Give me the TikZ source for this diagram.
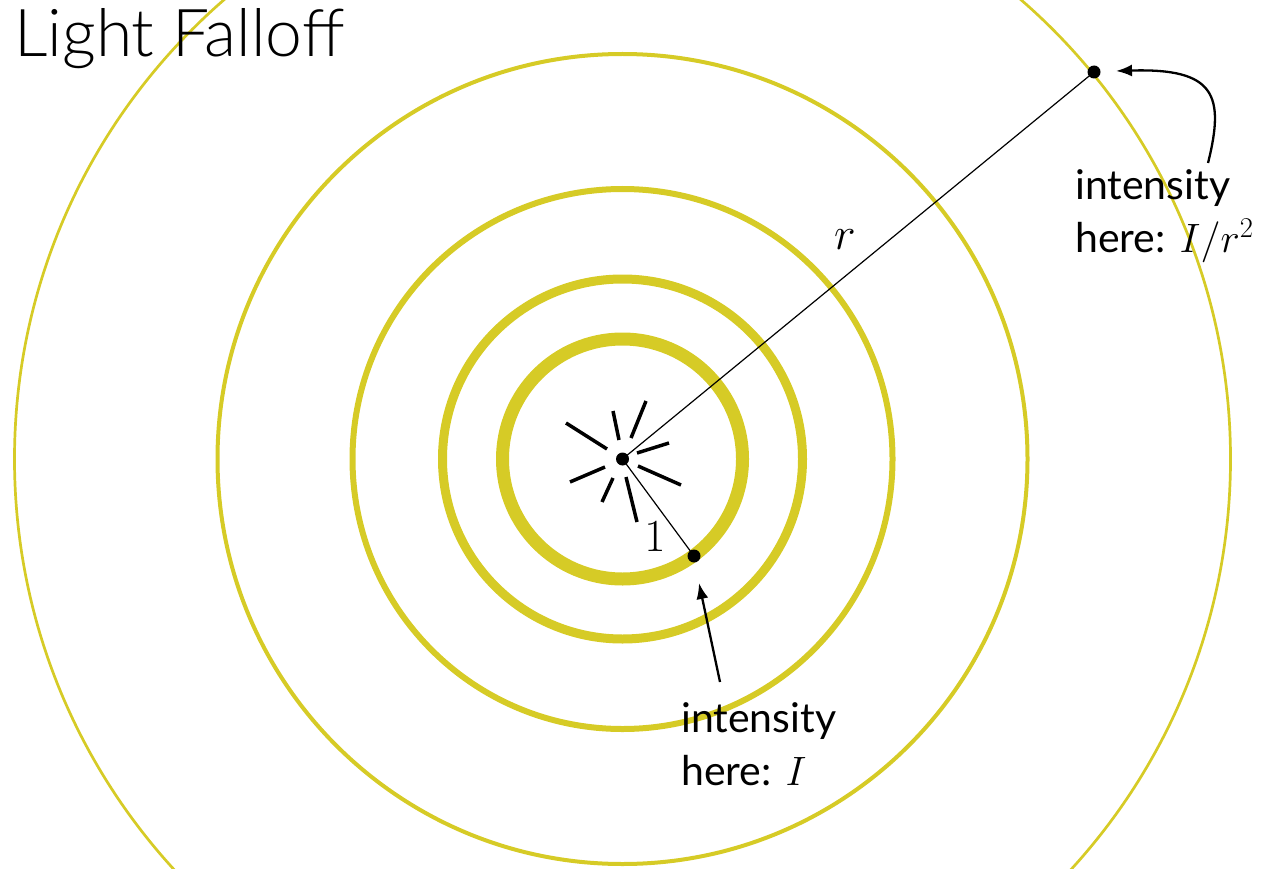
\RequirePackage{fix-cm}
\documentclass[tikz,border=0pt]{standalone}
\usepackage[no-math]{fontspec}
\setmainfont{Lato}
\newfontfamily\titlefont{Lato Light}
\usetikzlibrary{arrows.meta}
\definecolor{ring color}{RGB}{214,203,38}
\tikzset{ring/.style={draw=ring color}}
\tikzset{wire/.style={line width=1.2pt}}
\tikzset{ray/.style={line width=3.5pt}}
\tikzset{dot/.style={circle, fill, inner sep=0pt, minimum size=13pt}}
\tikzset{pointer/.style={line width=2.3pt, -{Latex[length=16pt,width=12pt]}}}
\tikzset{label text/.style={font=\fontsize{41}{53}\selectfont, align=left, anchor=base west, inner sep=0pt}}

\begin{document}
\begin{tikzpicture}[x=1pt, y=-1pt]
  \useasboundingbox (0,0) rectangle (1276,869);
  \clip (0,0) rectangle (1276,869);
  \coordinate (source) at (622.5,459);
  % rings, thinner as they grow
  \draw[ring, line width=13pt] (source) circle[radius=120];
  \draw[ring, line width=9pt] (source) circle[radius=180];
  \draw[ring, line width=6pt] (source) circle[radius=270];
  \draw[ring, line width=4pt] (source) circle[radius=405];
  \draw[ring, line width=2.7pt] (source) circle[radius=608];
  % rays of the source
  \foreach \a/\b in {{(566,423)}/{(607,449)}, {(613,411)}/{(619,440)},
                     {(646,401)}/{(631,438)}, {(637,453)}/{(669,443)},
                     {(638,466)}/{(681,485)}, {(626,477)}/{(637,522)},
                     {(613,478)}/{(602,502)}, {(605,467)}/{(570,482)}}
    \draw[ray] \a -- \b;
  \node[dot] (centre) at (source) {};
  \node[dot] (near) at (694,556) {};
  \node[dot] (far) at (1094,72) {};
  \draw[wire] (centre.center) -- (near.center);
  \draw[wire] (centre.center) -- (far.center);
  \node[font=\fontsize{46}{50}\selectfont] (one) at (655,537) {$1$};
  \node[font=\fontsize{46}{50}\selectfont] (radius) at (845,240) {$r$};
  % labels
  \node[label text] (near label) at (681,785) {intensity\\here: $I$};
  \node[label text] (far label) at (1075,252) {intensity\\here: $I/r^2$};
  \coordinate (near tail) at (720,682);
  \coordinate (near tip) at (699,583);
  \coordinate (far tail) at (1208,163);
  \coordinate (far tip) at (1116,71);
  \draw[pointer] (near tail) -- (near tip);
  \draw[pointer] (far tail) .. controls (1225,95) and (1215,68) .. (far tip);
  \node[font=\titlefont\fontsize{66}{74}\selectfont, anchor=base west, inner sep=0pt] (title) at (14,57) {Light Falloff};
\end{tikzpicture}
\end{document}
